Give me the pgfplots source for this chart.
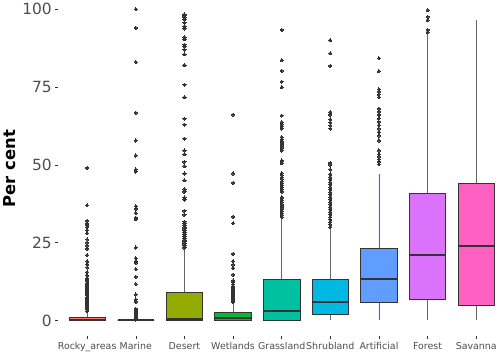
\documentclass[border=0pt]{standalone}
\usepackage{pgfplots}
\pgfplotsset{compat=1.18}
\usepgfplotslibrary{statistics}
\usepackage{fontspec}
\setmainfont{DejaVu Sans}
\definecolor{c1}{HTML}{F8766D}
\definecolor{c2}{HTML}{D39200}
\definecolor{c3}{HTML}{93AA00}
\definecolor{c4}{HTML}{00BA38}
\definecolor{c5}{HTML}{00C19F}
\definecolor{c6}{HTML}{00B9E3}
\definecolor{c7}{HTML}{619CFF}
\definecolor{c8}{HTML}{DB72FB}
\definecolor{c9}{HTML}{FF61C3}
\definecolor{grey20}{HTML}{333333}
\definecolor{grey30}{HTML}{4D4D4D}
\pgfplotsset{outl/.style={mark=*, mark size=1.6bp, mark options={solid, fill=grey20, draw=grey20, line width=0pt}}}
\begin{document}
\begin{tikzpicture}
\begin{axis}[
  scale only axis, width=441.6bp, height=336.8bp,
  xmin=0.4, xmax=9.43, ymin=-5, ymax=102.6,
  axis line style={draw=none},
  tick pos=left, tick align=outside, major tick length=2.75bp,
  tick style={color=grey20, line width=0.5bp},
  xtick={1,...,9},
  xticklabels={Rocky\_areas,Marine,Desert,Wetlands,Grassland,Shrubland,Artificial,Forest,Savanna},
  ytick={0,25,50,75,100},
  /pgf/number format/assume math mode=true,
  yticklabel style={font=\fontsize{15.5bp}{16bp}\selectfont, text=grey30},
  xticklabel style={font=\fontsize{9.5bp}{11bp}\selectfont, text=grey30},
  ylabel={Per cent},
  ylabel style={font=\fontsize{16.5bp}{18bp}\selectfont\bfseries, text=black},
  boxplot/draw direction=y,
  boxplot/box extend=0.75,
  boxplot/every box/.style={draw=grey20, line width=0.7bp},
  boxplot/every whisker/.style={draw=grey20!75!white, line width=0.7bp},
  boxplot/every median/.style={draw=grey20, line width=1.9bp},
]
% Rocky_areas
\addplot[boxplot prepared={draw position=1, lower whisker=0, lower quartile=0.05, median=0.3, upper quartile=1.1, upper whisker=2.6, whisker extend=0},
  fill=c1, draw=grey20, outl]
  table[row sep=\\, y index=0] {d\\ 49\\ 37\\ 32\\ 31\\ 30.5\\ 30\\ 29\\ 28\\ 26\\ 25\\ 24\\ 23\\ 21\\ 19\\ 18\\ 17\\ 15.5\\ 14.5\\ 13.5\\ 13\\ 12.5\\ 12\\ 11.5\\ 11\\ 10.5\\ 10\\ 9.5\\ 9\\ 8.5\\ 8\\ 7.5\\ 7\\ 6.5\\ 6\\ 5.5\\ 5\\ 4.5\\ 4\\ 3.5\\ 3\\};
% Marine
\addplot[boxplot prepared={draw position=2, lower whisker=0, lower quartile=0, median=0, upper quartile=0, upper whisker=0, whisker extend=0},
  fill=c2, draw=grey20, outl]
  table[row sep=\\, y index=0] {d\\ 100\\ 94\\ 83\\ 66.7\\ 57.8\\ 53\\ 48.5\\ 47.8\\ 36.7\\ 35.8\\ 34.5\\ 33\\ 32.5\\ 23.4\\ 20\\ 19\\ 18.5\\ 16.5\\ 14\\ 11.7\\ 8.3\\ 6.7\\ 6\\ 3.7\\ 3.3\\ 3\\ 2.7\\ 2.3\\ 2\\ 1.7\\ 1.3\\ 1\\ 0.7\\ 0.3\\};
% Desert
\addplot[boxplot prepared={draw position=3, lower whisker=0, lower quartile=0.1, median=0.5, upper quartile=9.0, upper whisker=22.5, whisker extend=0},
  fill=c3, draw=grey20, outl]
  table[row sep=\\, y index=0] {d\\ 23.3\\ 24\\ 24.6\\ 25.2\\ 25.8\\ 26.4\\ 27\\ 27.6\\ 28.2\\ 28.8\\ 29.4\\ 30\\ 30.6\\ 31.2\\ 31.7\\ 33.9\\ 35.2\\ 38.8\\ 39.5\\ 41.3\\ 42.2\\ 45\\ 47.2\\ 49.6\\ 50.9\\ 53.4\\ 54.6\\ 58.4\\ 62.9\\ 64.8\\ 71.7\\ 75.7\\ 82\\ 85.5\\ 87\\ 88\\ 88.6\\ 90.3\\ 91\\ 93.8\\ 94.5\\ 95.6\\ 96.7\\ 97.3\\ 97.8\\ 98.3\\};
% Wetlands
\addplot[boxplot prepared={draw position=4, lower whisker=0, lower quartile=0.1, median=0.9, upper quartile=2.5, upper whisker=5.7, whisker extend=0},
  fill=c4, draw=grey20, outl]
  table[row sep=\\, y index=0] {d\\ 6\\ 6.4\\ 6.8\\ 7.2\\ 7.6\\ 8\\ 8.4\\ 8.8\\ 9.2\\ 9.6\\ 10\\ 10.5\\ 11\\ 11.6\\ 12.3\\ 12.8\\ 14.7\\ 16.8\\ 17.9\\ 19\\ 21.4\\ 31.2\\ 33.3\\ 44.2\\ 47.2\\ 66.1\\};
% Grassland
\addplot[boxplot prepared={draw position=5, lower whisker=0, lower quartile=0.1, median=3.0, upper quartile=13.3, upper whisker=32.8, whisker extend=0},
  fill=c5, draw=grey20, outl]
  table[row sep=\\, y index=0] {d\\ 33.2\\ 33.8\\ 34.4\\ 35\\ 35.6\\ 36.2\\ 36.8\\ 37.4\\ 38\\ 38.6\\ 39.2\\ 39.6\\ 41.3\\ 42\\ 42.7\\ 43.4\\ 44\\ 44.7\\ 45.4\\ 46\\ 46.7\\ 47.3\\ 50.5\\ 51\\ 51.4\\ 54.6\\ 55.2\\ 55.8\\ 56.4\\ 57\\ 57.6\\ 58.2\\ 58.9\\ 61.6\\ 62.3\\ 63\\ 63.7\\ 65.8\\ 74.9\\ 76.7\\ 80.2\\ 83.6\\ 93.3\\};
% Shrubland
\addplot[boxplot prepared={draw position=6, lower whisker=0, lower quartile=2.1, median=5.8, upper quartile=13.3, upper whisker=29.6, whisker extend=0},
  fill=c6, draw=grey20, outl]
  table[row sep=\\, y index=0] {d\\ 30\\ 30.8\\ 31.6\\ 32.4\\ 33.2\\ 34\\ 34.8\\ 35.6\\ 36.4\\ 37.2\\ 38\\ 38.8\\ 39.6\\ 40.4\\ 41.2\\ 42\\ 42.8\\ 43.6\\ 44.4\\ 45.2\\ 46\\ 47\\ 48.5\\ 50\\ 50.6\\ 61.6\\ 62.6\\ 63.6\\ 64.6\\ 66\\ 66.9\\ 81.8\\ 85.8\\ 90\\};
% Artificial
\addplot[boxplot prepared={draw position=7, lower whisker=0, lower quartile=5.7, median=13.4, upper quartile=23.2, upper whisker=47, whisker extend=0},
  fill=c7, draw=grey20, outl]
  table[row sep=\\, y index=0] {d\\ 50.2\\ 51\\ 51.8\\ 52.6\\ 53.4\\ 54.6\\ 57.8\\ 59.4\\ 60.5\\ 61.6\\ 62.7\\ 63.8\\ 64.9\\ 66\\ 67\\ 68\\ 71.7\\ 72.6\\ 73.5\\ 74.3\\ 80\\ 84.2\\};
% Forest
\addplot[boxplot prepared={draw position=8, lower whisker=0, lower quartile=6.9, median=21.1, upper quartile=40.8, upper whisker=92, whisker extend=0},
  fill=c8, draw=grey20, outl]
  table[row sep=\\, y index=0] {d\\ 92.6\\ 93.3\\ 96.5\\ 97.5\\ 99.7\\};
% Savanna
\addplot[boxplot prepared={draw position=9, lower whisker=0, lower quartile=4.8, median=24, upper quartile=44, upper whisker=96.5, whisker extend=0},
  fill=c9, draw=grey20]
  coordinates {};
\end{axis}
\end{tikzpicture}
\end{document}
